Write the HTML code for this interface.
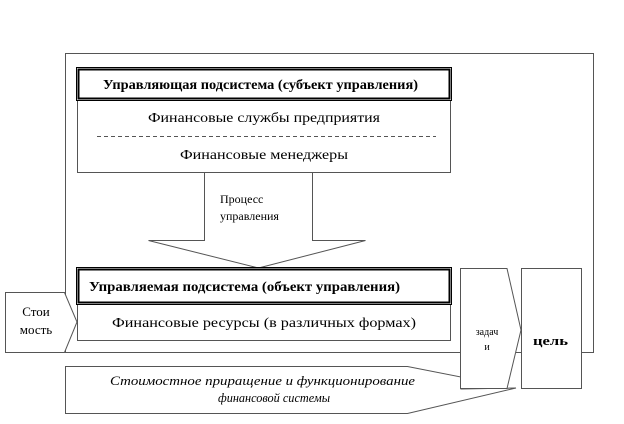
<!DOCTYPE html>
<html><head><meta charset="utf-8"><style>
body{margin:0;background:#fff}
svg text{font-family:"Liberation Serif","DejaVu Serif",serif;fill:#000}
</style></head><body>
<svg width="624" height="419" viewBox="0 0 624 419" xmlns="http://www.w3.org/2000/svg">
<g fill="#fff" stroke="#555" stroke-width="1">
<rect x="65.5" y="53.5" width="528" height="299"/>
<rect x="77.5" y="100.5" width="373" height="72"/>
<line x1="97" y1="136.5" x2="436" y2="136.5" stroke-dasharray="4,3"/>
<polygon points="204.5,172.5 312.5,172.5 312.5,240.5 365.5,240.5 258.5,268 148.5,240.5 204.5,240.5"/>
<rect x="77.5" y="303.5" width="373" height="37"/>
<polygon points="5.5,292.5 64.5,292.5 77,322 64.5,352.5 5.5,352.5"/>
<polygon points="65.5,366.5 407.5,366.5 461,377 461,389 516,388 407.5,413.5 65.5,413.5"/>
<polygon points="460.5,268.5 507,268.5 521,330 507,388.5 460.5,388.5"/>
<rect x="521.5" y="268.5" width="60" height="120"/>
</g>
<rect x="76.5" y="67.5" width="375" height="33" fill="#fff" stroke="#000" stroke-width="1"/>
<rect x="78.5" y="69.5" width="371" height="29" fill="none" stroke="#000" stroke-width="2"/>
<rect x="76.5" y="267.5" width="375" height="37" fill="#fff" stroke="#000" stroke-width="1"/>
<rect x="78.5" y="269.5" width="371" height="33" fill="none" stroke="#000" stroke-width="2"/>
<text x="103" y="89" font-size="13.5" font-weight="bold" textLength="315" lengthAdjust="spacingAndGlyphs">Управляющая подсистема (субъект управления)</text>
<text x="148" y="122" font-size="14" textLength="232" lengthAdjust="spacingAndGlyphs">Финансовые службы предприятия</text>
<text x="180" y="159" font-size="14" textLength="168" lengthAdjust="spacingAndGlyphs">Финансовые менеджеры</text>
<text x="220" y="203" font-size="12">Процесс</text>
<text x="220" y="220" font-size="12">управления</text>
<text x="89" y="291" font-size="13.5" font-weight="bold" textLength="311" lengthAdjust="spacingAndGlyphs">Управляемая подсистема (объект управления)</text>
<text x="112" y="327" font-size="14" textLength="304" lengthAdjust="spacingAndGlyphs">Финансовые ресурсы (в различных формах)</text>
<text x="36" y="316" font-size="13" text-anchor="middle">Стои</text>
<text x="36" y="334" font-size="13" text-anchor="middle">мость</text>
<text x="487" y="335" font-size="10" text-anchor="middle">задач</text>
<text x="487" y="350" font-size="10" text-anchor="middle">и</text>
<text x="533" y="345" font-size="13" font-weight="bold" textLength="35" lengthAdjust="spacingAndGlyphs">цель</text>
<text x="110" y="385" font-size="13" font-style="italic" textLength="305" lengthAdjust="spacingAndGlyphs">Стоимостное приращение и функционирование</text>
<text x="218" y="402" font-size="13" font-style="italic" textLength="112" lengthAdjust="spacingAndGlyphs">финансовой системы</text>
</svg>
</body></html>
